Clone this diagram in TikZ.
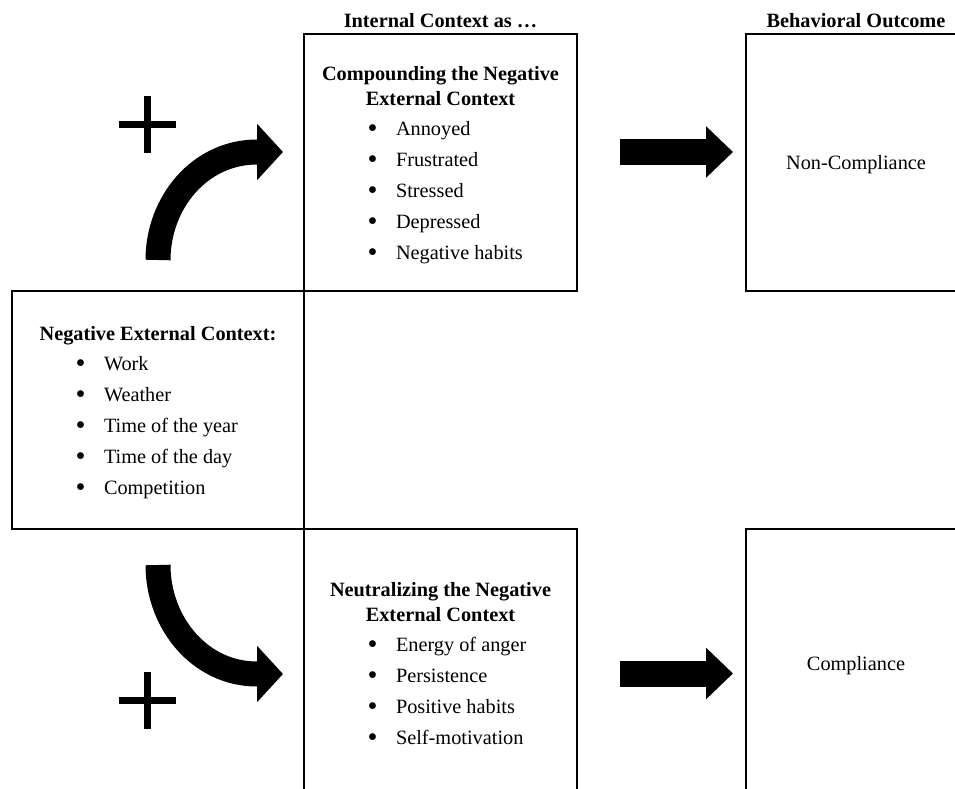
\documentclass[tikz,border=0pt]{standalone}
\usepackage{fontspec}
\setmainfont{Liberation Serif}
\usetikzlibrary{positioning,arrows.meta}

\tikzset{
  box/.style={draw,line width=2pt,outer sep=0pt,inner sep=0pt,align=center,
    text depth=-3pt,font=\fontsize{20.3pt}{25pt}\selectfont},
  header/.style={inner sep=0pt,font=\fontsize{20.3pt}{25pt}\selectfont\bfseries},
  blockarrow/.style={line width=26pt,-{Triangle[length=27pt,width=50pt]}},
  bendarrow/.style={line width=25pt,-{Triangle[length=26pt,width=55pt]}},
  plusbar/.style={line width=7pt}
}
\newcommand{\bitem}[2]{\makebox[#1][l]{\makebox[28.5pt][l]{\raisebox{-2.5pt}{\scalebox{1.4}{\textbullet}}}#2}}

\begin{document}
\begin{tikzpicture}[x=1pt,y=1pt]
\useasboundingbox (0,0) rectangle (955,788);

% boxes
\node[box,minimum width=273pt,minimum height=257pt] (cmpd) at (440.5,625.5)
  {\textbf{Compounding the Negative}\\\textbf{External Context}\\[5pt]
   \bitem{146pt}{Annoyed}\\[6pt]
   \bitem{146pt}{Frustrated}\\[6pt]
   \bitem{146pt}{Stressed}\\[6pt]
   \bitem{146pt}{Depressed}\\[6pt]
   \bitem{146pt}{Negative habits}};
\node[box,minimum width=292pt,minimum height=238pt,anchor=north east] (negext) at (cmpd.south west)
  {\textbf{Negative External Context:}\\[5pt]
   \bitem{165pt}{Work}\\[6pt]
   \bitem{165pt}{Weather}\\[6pt]
   \bitem{165pt}{Time of the year}\\[6pt]
   \bitem{165pt}{Time of the day}\\[6pt]
   \bitem{165pt}{Competition}};
\node[box,minimum width=273pt,minimum height=268pt,anchor=north west] (ntrl) at (negext.south east)
  {\textbf{Neutralizing the Negative}\\\textbf{External Context}\\[5pt]
   \bitem{146pt}{Energy of anger}\\[6pt]
   \bitem{146pt}{Persistence}\\[6pt]
   \bitem{146pt}{Positive habits}\\[6pt]
   \bitem{146pt}{Self-motivation}};
\node[box,minimum width=220pt,minimum height=257pt,right=169pt of cmpd] (noncomp) {Non-Compliance};
\node[box,minimum width=220pt,minimum height=268pt,right=169pt of ntrl] (comp) {Compliance};

% column headers
\node[header,anchor=base] (hdrint) at ([yshift=6pt]cmpd.north) {Internal Context as …};
\node[header,anchor=base] (hdrout) at ([yshift=6pt]noncomp.north) {Behavioral Outcome};

% straight arrows
\draw[blockarrow] ([shift={(43pt,10.5pt)}]cmpd.east) -- ([shift={(-13pt,10.5pt)}]noncomp.west);
\draw[blockarrow] ([shift={(43pt,-10.5pt)}]ntrl.east) -- ([shift={(-13pt,-10.5pt)}]comp.west);

% bent arrows
\coordinate (upstart) at ([yshift=31pt]negext.north);
\coordinate (uptip) at ([shift={(-21pt,10.5pt)}]cmpd.west);
\draw[bendarrow] (upstart) to[out=90,in=180] ([xshift=-26pt]uptip) -- (uptip);
\coordinate (dnstart) at ([yshift=-36pt]negext.south);
\coordinate (dntip) at ([shift={(-21pt,-11pt)}]ntrl.west);
\draw[bendarrow] (dnstart) to[out=-90,in=180] ([xshift=-26pt]dntip) -- (dntip);

% plus signs
\draw[plusbar] (118.5,663) -- (175.5,663) (147,634.5) -- (147,691.5);
\draw[plusbar] (118.5,88) -- (175.5,88) (147,59.5) -- (147,116.5);
\end{tikzpicture}
\end{document}
